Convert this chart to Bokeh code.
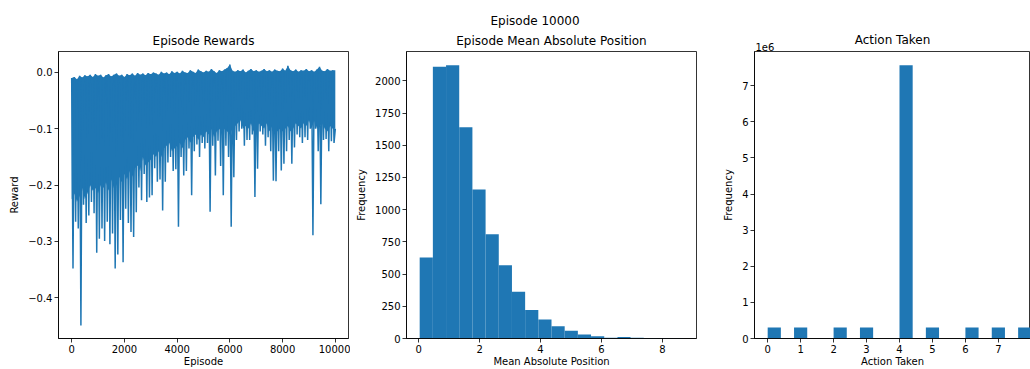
import numpy as np
from bokeh.plotting import figure
from bokeh.layouts import row
from bokeh.models import Range1d, FixedTicker, CustomJSTickFormatter, Title
from bokeh.embed import file_html
from bokeh.resources import INLINE

BLUE = "#1f77b4"
FONT = "DejaVu Sans"

# ---------------- data ----------------
suptitle = "Episode 10000"

# Episode rewards, read per block of 100 episodes
episode_start = list(range(0, 10000, 100))
reward_high = [
    -0.010, -0.008, -0.012, -0.006, -0.009, -0.005, -0.007, -0.004, -0.008, -0.003,
    -0.006, -0.004, -0.009, -0.005, -0.003, -0.007, -0.004, -0.002, -0.006, -0.004,
    -0.008, -0.003, -0.005, -0.002, -0.006, -0.001, -0.004, -0.002, -0.005, -0.001,
    -0.003, 0.000, -0.002, -0.004, 0.001, -0.002, 0.000, -0.003, 0.002, -0.001,
    0.001, -0.002, 0.003, 0.000, -0.001, 0.004, 0.001, -0.001, 0.005, 0.002,
    0.000, 0.003, 0.001, 0.006, 0.002, -0.001, 0.004, 0.002, 0.005, 0.008,
    0.014, 0.003, 0.001, 0.004, 0.002, 0.005, 0.000, 0.003, 0.006, 0.002,
    0.004, 0.001, 0.003, 0.006, 0.002, 0.004, 0.001, 0.005, 0.003, 0.002,
    0.007, 0.003, 0.012, 0.004, 0.002, 0.005, 0.001, 0.004, 0.003, 0.006,
    0.002, 0.004, 0.001, 0.005, 0.010, 0.003, 0.002, 0.006, 0.003, 0.004,
]
reward_band = [
    -0.225, -0.215, -0.230, -0.220, -0.205, -0.225, -0.215, -0.200, -0.210, -0.205,
    -0.215, -0.200, -0.205, -0.195, -0.210, -0.190, -0.205, -0.200, -0.185, -0.195,
    -0.180, -0.190, -0.175, -0.185, -0.170, -0.165, -0.175, -0.150, -0.165, -0.160,
    -0.155, -0.145, -0.150, -0.140, -0.150, -0.135, -0.130, -0.125, -0.140, -0.135,
    -0.130, -0.125, -0.135, -0.120, -0.115, -0.125, -0.115, -0.110, -0.120, -0.110,
    -0.115, -0.105, -0.110, -0.100, -0.115, -0.105, -0.100, -0.110, -0.100, -0.105,
    -0.110, -0.100, -0.095, -0.090, -0.085, -0.100, -0.095, -0.100, -0.090, -0.105,
    -0.100, -0.090, -0.095, -0.100, -0.090, -0.105, -0.095, -0.100, -0.105, -0.100,
    -0.105, -0.100, -0.095, -0.105, -0.100, -0.090, -0.095, -0.100, -0.090, -0.095,
    -0.085, -0.100, -0.085, -0.100, -0.095, -0.090, -0.100, -0.105, -0.095, -0.100,
]
reward_low = [
    -0.348, -0.265, -0.277, -0.449, -0.235, -0.267, -0.254, -0.230, -0.250, -0.320,
    -0.295, -0.277, -0.299, -0.265, -0.305, -0.286, -0.348, -0.323, -0.262, -0.337,
    -0.242, -0.267, -0.283, -0.292, -0.248, -0.204, -0.227, -0.180, -0.230, -0.222,
    -0.218, -0.170, -0.194, -0.190, -0.245, -0.194, -0.160, -0.150, -0.175, -0.172,
    -0.274, -0.150, -0.183, -0.175, -0.135, -0.218, -0.140, -0.128, -0.150, -0.125,
    -0.135, -0.125, -0.247, -0.130, -0.183, -0.121, -0.166, -0.218, -0.130, -0.150,
    -0.274, -0.186, -0.120, -0.105, -0.100, -0.130, -0.120, -0.120, -0.110, -0.221,
    -0.171, -0.105, -0.110, -0.130, -0.115, -0.140, -0.192, -0.193, -0.140, -0.174,
    -0.162, -0.140, -0.120, -0.162, -0.133, -0.110, -0.115, -0.125, -0.115, -0.120,
    -0.100, -0.289, -0.100, -0.140, -0.234, -0.120, -0.118, -0.140, -0.122, -0.125,
]
last_episode = 9999

# Mean absolute position histogram (20 bins)
position_bin_edges = [0.03, 0.463, 0.896, 1.329, 1.762, 2.195, 2.628, 3.061, 3.494, 3.927,
                      4.36, 4.793, 5.226, 5.659, 6.092, 6.525, 6.958, 7.391, 7.824, 8.257, 8.69]
position_counts = [628, 2110, 2122, 1640, 1156, 810, 569, 362, 222, 147,
                   96, 60, 31, 18, 6, 11, 5, 4, 1, 2]

# Actions taken (histogram with 20 bins over 0..8)
actions = [0, 1, 2, 3, 4, 5, 6, 7, 8]
action_counts = [303000, 304000, 302000, 304000, 7570000, 303000, 304000, 302000, 303000]

# ---------------- helpers ----------------
H = 369
TOP = 51
BOTTOM = 31


def add_title(p, text, size="12px", align="center", offset=0, standoff=8):
    t = Title(text=text, align=align, offset=offset, standoff=standoff,
              text_font=FONT, text_font_size=size, text_font_style="normal",
              text_color="black")
    p.add_layout(t, "above")
    return t


def style(p):
    p.xgrid.visible = False
    p.ygrid.visible = False
    p.outline_line_color = "black"
    p.outline_line_width = 0.8
    p.outline_line_alpha = 1.0
    p.background_fill_color = "white"
    p.border_fill_color = "white"
    for ax in (p.xaxis[0], p.yaxis[0]):
        ax.axis_line_color = "black"
        ax.axis_line_width = 0.8
        ax.major_tick_line_color = "black"
        ax.major_tick_line_width = 0.8
        ax.major_tick_out = 4
        ax.major_tick_in = 0
        ax.minor_tick_line_color = None
        ax.major_label_text_font = FONT
        ax.major_label_text_font_size = "10px"
        ax.major_label_text_color = "black"
        ax.major_label_standoff = 2
        ax.axis_label_text_font = FONT
        ax.axis_label_text_font_size = "10px"
        ax.axis_label_text_font_style = "normal"
        ax.axis_label_text_color = "black"
    p.xaxis[0].axis_label_standoff = 0
    p.yaxis[0].axis_label_standoff = 5


def pad_range(lo, hi, frac=0.05):
    d = (hi - lo) * frac
    return lo - d, hi + d


def make_fig(width, left, right, xr, yr):
    return figure(width=width, height=H, x_range=xr, y_range=yr, title_location=None,
                  output_backend="svg", toolbar_location=None,
                  min_border_left=left, min_border_right=right,
                  min_border_top=TOP, min_border_bottom=BOTTOM)


# ---------------- plot 1: rewards ----------------
all_r = reward_high + reward_low
x0, x1 = pad_range(0, last_episode)
y0, y1 = pad_range(min(all_r), max(all_r))
p1 = make_fig(350, 58, 2, Range1d(x0, x1), Range1d(y0, y1))
style(p1)
add_title(p1, "Episode Rewards")
band_x = episode_start + [last_episode]
p1.varea(x=band_x, y1=reward_band + [reward_band[-1]], y2=reward_high + [reward_high[-1]],
         fill_color=BLUE)
zx, zy = [], []
for e, hi, lo in zip(episode_start, reward_high, reward_low):
    zx += [e, e + 50]
    zy += [hi, lo]
zx.append(last_episode)
zy.append(reward_band[-1])
p1.line(zx, zy, line_color=BLUE, line_width=1.5)
p1.xaxis[0].ticker = FixedTicker(ticks=[0, 2000, 4000, 6000, 8000, 10000])
p1.yaxis[0].ticker = FixedTicker(ticks=[-0.4, -0.3, -0.2, -0.1, 0.0])
p1.yaxis[0].formatter = CustomJSTickFormatter(
    code="var v = Math.abs(tick) < 1e-12 ? 0 : tick; return (v < 0 ? '\\u2212' : '') + Math.abs(v).toFixed(1);")
p1.xaxis[0].axis_label = "Episode"
p1.yaxis[0].axis_label = "Reward"

# ---------------- plot 2: position histogram ----------------
px0, px1 = pad_range(position_bin_edges[0], position_bin_edges[-1])
p2 = make_fig(350, 56, 4, Range1d(px0, px1), Range1d(0, max(position_counts) * 1.05))
style(p2)
add_title(p2, "Episode Mean Absolute Position")
add_title(p2, suptitle, align="left", offset=84, standoff=-1)
p2.quad(left=position_bin_edges[:-1], right=position_bin_edges[1:], bottom=0, top=position_counts,
        fill_color=BLUE, line_color=None)
p2.xaxis[0].ticker = FixedTicker(ticks=[0, 2, 4, 6, 8])
p2.yaxis[0].ticker = FixedTicker(ticks=list(range(0, 2001, 250)))
p2.xaxis[0].axis_label = "Mean Absolute Position"
p2.yaxis[0].axis_label = "Frequency"

# ---------------- plot 3: actions histogram ----------------
a_counts, a_edges = np.histogram(actions, bins=20, range=(0, 8), weights=action_counts)
ax0, ax1 = pad_range(0, 8)
frame_w3 = 276
ax1_vis = ax0 + (ax1 - ax0) * frame_w3 / 290.0
a_top = a_counts.max() * 1.05
p3 = make_fig(330, 54, 0, Range1d(ax0, ax1_vis), Range1d(0, a_top))
style(p3)
add_title(p3, "1e6", size="10px", align="left", offset=1, standoff=2)
add_title(p3, "Action Taken", standoff=-15)
p3.quad(left=a_edges[:-1], right=a_edges[1:], bottom=0, top=a_counts,
        fill_color=BLUE, line_color=None)
p3.xaxis[0].ticker = FixedTicker(ticks=actions)
p3.yaxis[0].ticker = FixedTicker(ticks=[i * 1e6 for i in range(8)])
p3.yaxis[0].formatter = CustomJSTickFormatter(code="return (tick / 1e6).toFixed(0);")
p3.xaxis[0].axis_label = "Action Taken"
p3.yaxis[0].axis_label = "Frequency"

layout = row(p1, p2, p3)
open("out.html", "w").write(file_html(layout, INLINE))
